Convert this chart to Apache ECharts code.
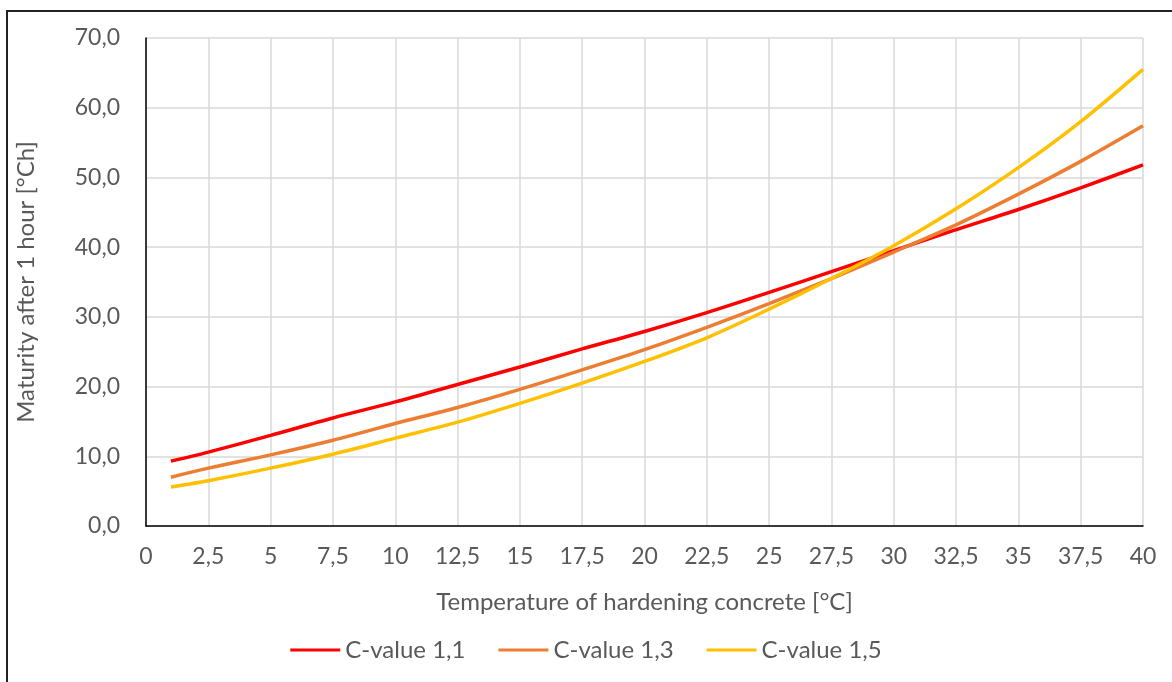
<!DOCTYPE html>
<html>
<head>
<meta charset="utf-8">
<script src="https://cdn.jsdelivr.net/npm/echarts@6/dist/echarts.min.js"></script>
<style>
html,body{margin:0;padding:0;background:#fff;}
#chart{width:1172px;height:682px;}
</style>
</head>
<body>
<div id="chart"></div>
<script>
// Data
const temperatures = [1, 2.5, 5, 7.5, 10, 12.5, 15, 17.5, 20, 22.5, 25, 27.5, 30, 32.5, 35, 37.5, 40];
const cValue11 = [9.3, 10.6, 13.0, 15.5, 17.8, 20.3, 22.8, 25.4, 27.9, 30.6, 33.5, 36.5, 39.5, 42.5, 45.4, 48.5, 51.8];
const cValue13 = [7.0, 8.3, 10.2, 12.3, 14.7, 17.0, 19.6, 22.4, 25.3, 28.5, 31.9, 35.5, 39.3, 43.2, 47.6, 52.3, 57.4];
const cValue15 = [5.6, 6.5, 8.3, 10.3, 12.6, 14.9, 17.6, 20.5, 23.6, 27.0, 31.1, 35.5, 40.2, 45.5, 51.4, 58.0, 65.5];
const seriesNames = ['C-value 1,1', 'C-value 1,3', 'C-value 1,5'];
const xTitle = 'Temperature of hardening concrete [°C]';
const yTitle = 'Maturity after 1 hour [°Ch]';

const toPairs = arr => temperatures.map((t, i) => [t, arr[i]]);
const fmtComma = (v, dec) => v.toFixed(dec).replace('.', ',');
const xLabel = v => (Number.isInteger(v) ? String(v) : String(v).replace('.', ','));

const FONT = 'Lato';
const GREY = '#595959';
const colors = ['#FF0000', '#ED7D31', '#FFC000'];

const chart = echarts.init(document.getElementById('chart'), null, {renderer: 'canvas'});
chart.setOption({
  animation: false,
  backgroundColor: '#fff',
  textStyle: {fontFamily: FONT},
  graphic: [{
    type: 'rect',
    shape: {x: 7, y: 11, width: 1300, height: 800},
    style: {fill: 'none', stroke: '#222', lineWidth: 2},
    silent: true, z: 100
  }],
  grid: {left: 146, right: 29, top: 38, bottom: 156, containLabel: false},
  legend: {
    top: 633,
    left: 'center',
    itemWidth: 50,
    itemHeight: 3,
    itemGap: 33,
    icon: 'rect',
    textStyle: {fontFamily: FONT, fontSize: 24, color: GREY, padding: [0, 0, 0, 0]},
    data: seriesNames
  },
  xAxis: {
    type: 'value',
    min: 0, max: 40, interval: 2.5,
    name: xTitle,
    nameLocation: 'middle',
    nameGap: 64,
    nameTextStyle: {fontFamily: FONT, fontSize: 24, color: GREY},
    axisLine: {show: true, lineStyle: {color: '#000', width: 1.5}},
    axisTick: {show: false},
    axisLabel: {fontFamily: FONT, fontSize: 23, color: GREY, margin: 19, formatter: xLabel},
    splitLine: {show: true, lineStyle: {color: '#D9D9D9', width: 1.5}}
  },
  yAxis: {
    type: 'value',
    min: 0, max: 70, interval: 10,
    name: yTitle,
    nameLocation: 'middle',
    nameGap: 108,
    nameTextStyle: {fontFamily: FONT, fontSize: 24, color: GREY},
    axisLine: {show: true, lineStyle: {color: '#000', width: 1.5}},
    axisTick: {show: false},
    axisLabel: {fontFamily: FONT, fontSize: 23, color: GREY, margin: 26, formatter: v => fmtComma(v, 1)},
    splitLine: {show: true, lineStyle: {color: '#D9D9D9', width: 1.5}}
  },
  series: [cValue11, cValue13, cValue15].map((arr, i) => ({
    name: seriesNames[i],
    type: 'line',
    data: toPairs(arr),
    smooth: 0.3,
    showSymbol: false,
    symbol: 'none',
    color: colors[i],
    lineStyle: {color: colors[i], width: 3.5},
    z: 3 + i
  }))
});
</script>
</body>
</html>
